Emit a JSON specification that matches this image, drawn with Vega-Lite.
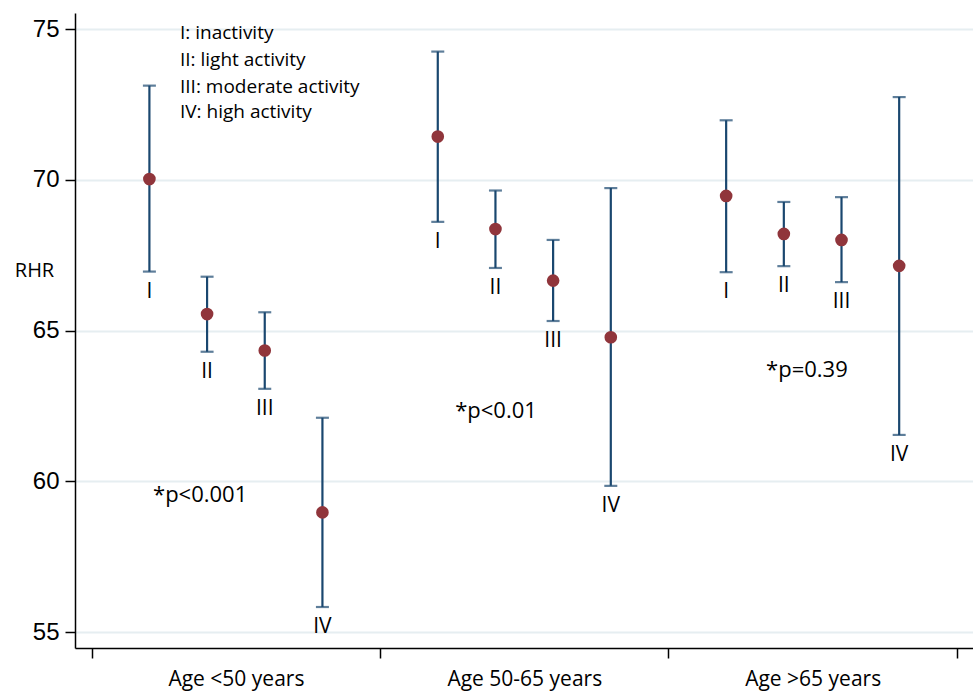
{
  "$schema": "https://vega.github.io/schema/vega-lite/v6.json",
  "width": 898,
  "height": 635,
  "autosize": {"type": "none"},
  "padding": {"left": 75, "top": 13, "right": 0, "bottom": 43},
  "background": "white",
  "config": {"view": {"stroke": null}},
  "datasets": {
    "est": [
      {"group": "Age <50 years", "level": "I", "x": 1, "est": 70.03, "lo": 66.96, "hi": 73.13},
      {"group": "Age <50 years", "level": "II", "x": 2, "est": 65.55, "lo": 64.30, "hi": 66.79},
      {"group": "Age <50 years", "level": "III", "x": 3, "est": 64.34, "lo": 63.07, "hi": 65.61},
      {"group": "Age <50 years", "level": "IV", "x": 4, "est": 58.97, "lo": 55.83, "hi": 62.11},
      {"group": "Age 50-65 years", "level": "I", "x": 6, "est": 71.44, "lo": 68.61, "hi": 74.26},
      {"group": "Age 50-65 years", "level": "II", "x": 7, "est": 68.37, "lo": 67.08, "hi": 69.65},
      {"group": "Age 50-65 years", "level": "III", "x": 8, "est": 66.66, "lo": 65.32, "hi": 68.01},
      {"group": "Age 50-65 years", "level": "IV", "x": 9, "est": 64.78, "lo": 59.85, "hi": 69.73},
      {"group": "Age >65 years", "level": "I", "x": 11, "est": 69.47, "lo": 66.94, "hi": 71.98},
      {"group": "Age >65 years", "level": "II", "x": 12, "est": 68.21, "lo": 67.14, "hi": 69.27},
      {"group": "Age >65 years", "level": "III", "x": 13, "est": 68.01, "lo": 66.61, "hi": 69.43},
      {"group": "Age >65 years", "level": "IV", "x": 14, "est": 67.15, "lo": 61.54, "hi": 72.75}
    ],
    "pvals": [
      {"x": 1.88, "y": 59.55, "text": "*p<0.001"},
      {"x": 7.01, "y": 62.32, "text": "*p<0.01"},
      {"x": 12.4, "y": 63.70, "text": "*p=0.39"}
    ],
    "legend": [
      {"x": 1.53, "y": 74.88, "text": "I: inactivity"},
      {"x": 1.53, "y": 73.98, "text": "II: light activity"},
      {"x": 1.53, "y": 73.08, "text": "III: moderate activity"},
      {"x": 1.53, "y": 72.25, "text": "IV: high activity"}
    ]
  },
  "layer": [
    {
      "data": {"name": "est"},
      "mark": {"type": "rule", "color": "#1a476f", "strokeWidth": 2.2},
      "encoding": {
        "x": {
          "field": "x", "type": "quantitative",
          "scale": {"domain": [-0.29, 15.28], "nice": false, "zero": false},
          "axis": {
            "title": null,
            "values": [0, 2.5, 5, 7.5, 10, 12.5, 15],
            "labelExpr": "datum.value == 2.5 ? 'Age <50 years' : datum.value == 7.5 ? 'Age 50-65 years' : datum.value == 12.5 ? 'Age >65 years' : ''",
            "grid": false,
            "domainColor": "#000000",
            "domainWidth": 1.5,
            "tickColor": "#000000",
            "tickWidth": 1.5,
            "tickSize": 10,
            "tickOpacity": {"condition": {"test": "datum.value % 5 === 0", "value": 1}, "value": 0},
            "labelFont": "Open Sans",
            "labelFontSize": 21,
            "labelColor": "#000000",
            "labelPadding": 10,
            "labelOverlap": false,
            "labelFlush": false
          }
        },
        "y": {
          "field": "lo", "type": "quantitative",
          "title": "RHR",
          "scale": {"domain": [54.47, 75.54], "nice": false, "zero": false},
          "axis": {
            "titleAngle": 0,
            "titleX": -41,
            "titleY": 257,
            "titleAlign": "center",
            "titleBaseline": "middle",
            "titleFont": "Open Sans",
            "titleFontSize": 20,
            "titleFontWeight": 400,
            "titleColor": "#000000",
            "titleLimit": 200,
            "values": [55, 60, 65, 70, 75],
            "grid": true,
            "gridColor": "#e6eef1",
            "gridWidth": 1.8,
            "domainColor": "#000000",
            "domainWidth": 1.5,
            "tickColor": "#000000",
            "tickWidth": 1.5,
            "tickSize": 10,
            "labelFont": "Liberation Sans",
            "labelFontSize": 24,
            "labelColor": "#000000",
            "labelPadding": 6,
            "labelFlush": false
          }
        },
        "y2": {"field": "hi"}
      }
    },
    {
      "data": {"name": "est"},
      "mark": {"type": "tick", "orient": "horizontal", "color": "#1a476f", "size": 13, "thickness": 2.2},
      "encoding": {
        "x": {"field": "x", "type": "quantitative"},
        "y": {"field": "lo", "type": "quantitative"}
      }
    },
    {
      "data": {"name": "est"},
      "mark": {"type": "tick", "orient": "horizontal", "color": "#1a476f", "size": 13, "thickness": 2.2},
      "encoding": {
        "x": {"field": "x", "type": "quantitative"},
        "y": {"field": "hi", "type": "quantitative"}
      }
    },
    {
      "data": {"name": "est"},
      "mark": {"type": "circle", "color": "#90353b", "size": 160, "opacity": 1},
      "encoding": {
        "x": {"field": "x", "type": "quantitative"},
        "y": {"field": "est", "type": "quantitative"}
      }
    },
    {
      "data": {"name": "est"},
      "mark": {"type": "text", "font": "Open Sans", "fontSize": 21, "color": "#000000", "align": "center", "baseline": "middle", "dy": 20},
      "encoding": {
        "x": {"field": "x", "type": "quantitative"},
        "y": {"field": "lo", "type": "quantitative"},
        "text": {"field": "level"}
      }
    },
    {
      "data": {"name": "pvals"},
      "mark": {"type": "text", "font": "Open Sans", "fontSize": 22, "color": "#000000", "align": "center", "baseline": "middle"},
      "encoding": {
        "x": {"field": "x", "type": "quantitative"},
        "y": {"field": "y", "type": "quantitative"},
        "text": {"field": "text"}
      }
    },
    {
      "data": {"name": "legend"},
      "mark": {"type": "text", "font": "Open Sans", "fontSize": 19, "color": "#000000", "align": "left", "baseline": "middle"},
      "encoding": {
        "x": {"field": "x", "type": "quantitative"},
        "y": {"field": "y", "type": "quantitative"},
        "text": {"field": "text"}
      }
    }
  ]
}
